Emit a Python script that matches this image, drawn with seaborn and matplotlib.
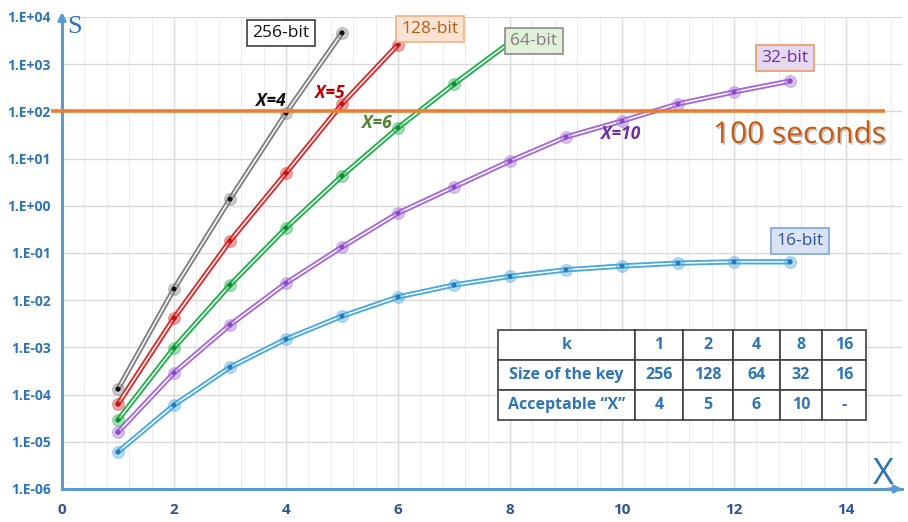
import numpy as np
import pandas as pd
import matplotlib
matplotlib.use("Agg")
import matplotlib.pyplot as plt
import matplotlib.patheffects as pe
from matplotlib.ticker import LogLocator, FixedLocator, NullFormatter, MultipleLocator
import seaborn as sns

# Computation time S (seconds) versus X for each key size
x_256 = [1, 2, 3, 4, 5]
s_256 = [1.31e-4, 1.73e-2, 1.39, 92.5, 4.6e3]
x_128 = [1, 2, 3, 4, 5, 6]
s_128 = [6.3e-5, 4.2e-3, 0.18, 4.95, 144, 2.6e3]
x_64 = [1, 2, 3, 4, 5, 6, 7, 8]
s_64 = [2.9e-5, 9.8e-4, 0.021, 0.34, 4.3, 45, 380, 2.9e3]
x_32 = [1, 2, 3, 4, 5, 6, 7, 8, 9, 10, 11, 12, 13]
s_32 = [1.6e-5, 2.9e-4, 3.0e-3, 0.023, 0.134, 0.70, 2.5, 8.9, 28.7, 62.7, 144, 258, 440]
x_16 = [1, 2, 3, 4, 5, 6, 7, 8, 9, 10, 11, 12, 13]
s_16 = [6.1e-6, 6.0e-5, 3.8e-4, 1.5e-3, 4.6e-3, 0.0117, 0.021, 0.032, 0.044, 0.053, 0.061, 0.065, 0.065]

series_names = ["256-bit", "128-bit", "64-bit", "32-bit", "16-bit"]
threshold = 100

# Summary table
table_rows = ["k", "Size of the key", "Acceptable \u201cX\u201d"]
table_k = ["1", "2", "4", "8", "16"]
table_size = ["256", "128", "64", "32", "16"]
table_accept = ["4", "5", "6", "10", "-"]

y_ticks = [1e-6, 1e-5, 1e-4, 1e-3, 1e-2, 1e-1, 1e0, 1e1, 1e2, 1e3, 1e4]
y_ticklabels = ["1.E-06", "1.E-05", "1.E-04", "1.E-03", "1.E-02", "1.E-01",
                "1.E+00", "1.E+01", "1.E+02", "1.E+03", "1.E+04"]

frames = []
for name, xs, ss in zip(series_names,
                        [x_256, x_128, x_64, x_32, x_16],
                        [s_256, s_128, s_64, s_32, s_16]):
    frames.append(pd.DataFrame({"X": xs, "S": ss, "key": name}))
df = pd.concat(frames, ignore_index=True)

line_colors = {"256-bit": "#808080", "128-bit": "#d92b2b", "64-bit": "#22b04e",
               "32-bit": "#a46ad6", "16-bit": "#4aa9dc"}
dot_colors = {"256-bit": "#111111", "128-bit": "#c01818", "64-bit": "#178a3a",
              "32-bit": "#8a4cc2", "16-bit": "#2a78b8"}

sns.set_theme(style="white")
plt.rcParams["font.family"] = ["Open Sans", "DejaVu Sans"]

fig = plt.figure(figsize=(9.08, 5.22), dpi=100)
ax = fig.add_axes([62 / 908, 1 - 489 / 522, 840 / 908, 472 / 522])

ax.set_yscale("log")
ax.set_xlim(0, 15)
ax.set_ylim(1e-6, 1e4)

# Grid
ax.xaxis.set_major_locator(MultipleLocator(2))
ax.xaxis.set_minor_locator(MultipleLocator(0.4))
ax.yaxis.set_major_locator(FixedLocator(y_ticks))
ax.yaxis.set_minor_locator(LogLocator(base=10, subs=np.arange(2, 10)))
ax.yaxis.set_minor_formatter(NullFormatter())
ax.grid(which="major", color="#d9d9d9", lw=1.0)
ax.grid(which="minor", color="#ececec", lw=0.7)
ax.set_axisbelow(True)

# Double lines: coloured stroke with a thin white core
for name in series_names:
    sub = df[df["key"] == name]
    c = line_colors[name]
    sns.lineplot(data=sub, x="X", y="S", ax=ax, color=c, lw=3.8,
                 zorder=3, legend=False, errorbar=None)
    sns.lineplot(data=sub, x="X", y="S", ax=ax, color="white", lw=1.1,
                 zorder=3.5, legend=False, errorbar=None)
    ax.scatter(sub["X"], sub["S"], s=70, facecolor=c, alpha=0.4,
               edgecolor=c, linewidth=1.0, zorder=4)
    ax.scatter(sub["X"], sub["S"], s=13, facecolor=dot_colors[name],
               edgecolor="none", zorder=5)

ax.set_xlabel("")
ax.set_ylabel("")

# 100 seconds threshold
ax.plot([-0.2, 14.7], [threshold, threshold], color="#ed7d31", lw=2.6,
        zorder=6, clip_on=False, solid_capstyle="butt")
ax.text(13.17, 31, "100 seconds", color="#c55a11", fontsize=21.5,
        ha="center", va="center", zorder=7,
        path_effects=[pe.withSimplePatchShadow(offset=(1.2, -1.2),
                                               shadow_rgbFace="#999999", alpha=0.6)])

# Axes styling
for side in ["top", "right"]:
    ax.spines[side].set_visible(False)
for side in ["left", "bottom"]:
    ax.spines[side].set_color("#5b9bd5")
    ax.spines[side].set_linewidth(2.2)
ax.annotate("", xy=(0, 1.0165), xytext=(0, 0.99), xycoords="axes fraction",
            arrowprops=dict(arrowstyle="-|>", color="#5b9bd5", lw=2.2,
                            mutation_scale=11))
ax.annotate("", xy=(1.004, 0), xytext=(0.98, 0), xycoords="axes fraction",
            arrowprops=dict(arrowstyle="-|>", color="#5b9bd5", lw=2.2,
                            mutation_scale=11))

ax.set_yticks(y_ticks)
ax.set_yticklabels(y_ticklabels)
ax.set_xticks([0, 2, 4, 6, 8, 10, 12, 14])
ax.tick_params(axis="both", which="both", length=0)
ax.tick_params(axis="y", pad=8)
ax.tick_params(axis="x", pad=10)
for lab in ax.get_yticklabels():
    lab.set_color("#2e75b6")
    lab.set_fontweight("bold")
    lab.set_fontsize(10)
for lab in ax.get_xticklabels():
    lab.set_color("#2f5597")
    lab.set_fontweight("bold")
    lab.set_fontsize(11)

fig.text(75 / 908, 1 - 27 / 522, "S", color="#2e75b6", fontsize=19,
         family="Liberation Serif", ha="center", va="center")
fig.text(883 / 908, 1 - 475 / 522, "X", color="#2e75b6", fontsize=26,
         ha="center", va="center")

# Series labels
def label_box(x, y, text, fc, ec, tc):
    fig.text(x / 908, 1 - y / 522, text, color=tc, fontsize=12.5,
             ha="center", va="center", zorder=10,
             bbox=dict(boxstyle="square,pad=0.3", fc=fc, ec=ec, lw=1.2))

label_box(281, 33, "256-bit", "white", "#404040", "#111111")
label_box(430, 29, "128-bit", "#fbe3d4", "#f4b183", "#c55a11")
label_box(534, 41, "64-bit", "#e2f0d9", "#8c8c8c", "#7f7f7f")
label_box(785, 58, "32-bit", "#e7d8f2", "#ed9a5f", "#7030a0")
label_box(800, 241, "16-bit", "#dae3f3", "#7ba7d9", "#2f5597")

# Acceptable X annotations
def xlabel_mark(x, y, text, color):
    fig.text(x / 908, 1 - y / 522, text, color=color, fontsize=12.5,
             fontweight="bold", fontstyle="italic", ha="center", va="center",
             zorder=10)

xlabel_mark(271, 101, "X=4", "#111111")
xlabel_mark(330, 93, "X=5", "#c00000")
xlabel_mark(377, 123, "X=6", "#538135")
xlabel_mark(621, 134, "X=10", "#7030a0")

# Table
col_edges = [498, 635, 683, 733, 780, 822, 866]
row_edges = [330, 360, 390, 420]
tab = ax.table(cellText=[[table_rows[0]] + table_k,
                         [table_rows[1]] + table_size,
                         [table_rows[2]] + table_accept],
               cellLoc="center",
               bbox=[(col_edges[0] - 62) / 840, (489 - row_edges[-1]) / 472,
                     (col_edges[-1] - col_edges[0]) / 840,
                     (row_edges[-1] - row_edges[0]) / 472])
tab.auto_set_font_size(False)
total_w = col_edges[-1] - col_edges[0]
for (r, c), cell in tab.get_celld().items():
    cell.set_width((col_edges[c + 1] - col_edges[c]) / total_w)
    cell.set_edgecolor("#404040")
    cell.set_linewidth(1.2)
    cell.set_facecolor("white")
    cell.get_text().set_color("#2e75b6")
    cell.get_text().set_fontweight("bold")
    cell.get_text().set_fontsize(11.5)
tab.set_zorder(8)

fig.savefig("out.png", dpi=100)
